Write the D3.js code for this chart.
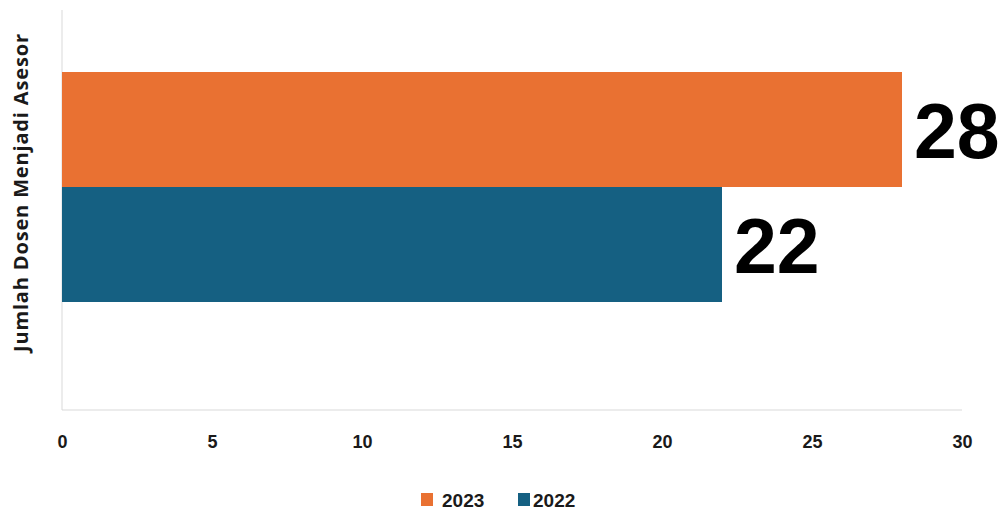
<!DOCTYPE html>
<html><head><meta charset="utf-8">
<script src="https://cdn.jsdelivr.net/npm/d3@7"></script>
<style>body{margin:0;background:#fff}svg{display:block}</style>
</head><body>
<script>
const categories = ["Jumlah Dosen Menjadi Asesor"];
const seriesNames = ["2023", "2022"];
const seriesValues = [28, 22];
const seriesColors = ["#E97132", "#156082"];
const xTicks = [0, 5, 10, 15, 20, 25, 30];

(function () {
const W = 1004, H = 511;
const svg = d3.select("body").append("svg").attr("width", W).attr("height", H);
const mLeft = 62, mRight = 962, mTop = 10, mBottom = 410;

const x = d3.scaleLinear().domain([0, 30]).range([mLeft, mRight]);
const y = d3.scaleBand().domain(seriesNames).range([72, 302]).padding(0);

// axes lines
svg.append("line").attr("x1", mLeft).attr("x2", mLeft).attr("y1", mTop).attr("y2", mBottom)
  .attr("stroke", "#d9d9d9").attr("stroke-width", 1);
svg.append("line").attr("x1", mLeft).attr("x2", mRight).attr("y1", mBottom).attr("y2", mBottom)
  .attr("stroke", "#d9d9d9").attr("stroke-width", 1);

// bars
const data = seriesNames.map((s, i) => ({s, v: seriesValues[i], c: seriesColors[i]}));
svg.selectAll("rect.bar").data(data).enter().append("rect")
  .attr("x", x(0)).attr("y", d => y(d.s))
  .attr("width", d => x(d.v) - x(0)).attr("height", y.bandwidth())
  .attr("fill", d => d.c);

// value labels
svg.selectAll("text.val").data(data).enter().append("text")
  .attr("x", d => x(d.v) + 12).attr("y", d => y(d.s) + y.bandwidth() / 2 + 28.5)
  .attr("font-family", "Liberation Sans, Arial, sans-serif").attr("font-weight", "bold")
  .attr("font-size", 77).attr("fill", "#000").text(d => d.v);

// x tick labels
const xAxis = d3.axisBottom(x).tickValues(xTicks).tickSize(0).tickPadding(0);
const gx = svg.append("g").attr("transform", `translate(0,${mBottom + 25})`).call(xAxis);
gx.select(".domain").remove();
gx.selectAll("text").attr("font-family", "Liberation Sans, Arial, sans-serif")
  .attr("font-weight", "bold").attr("font-size", 18).attr("fill", "#1a1a1a");

// y title
svg.append("text").attr("transform", `translate(28,193) rotate(-90)`)
  .attr("text-anchor", "middle")
  .attr("font-family", "Open Sans, Liberation Sans, Arial, sans-serif").attr("font-weight", "bold")
  .attr("font-size", 20).attr("fill", "#1a1a1a")
  .attr("textLength", 318).attr("lengthAdjust", "spacing")
  .text(categories[0]);

// legend
const legX = [421, 518];
const legTextX = [442, 533];
data.forEach((d, i) => {
  svg.append("rect").attr("x", legX[i]).attr("y", 493).attr("width", 12).attr("height", 13).attr("fill", d.c);
  svg.append("text").attr("x", legTextX[i]).attr("y", 507)
    .attr("font-family", "Liberation Sans, Arial, sans-serif")
    .attr("font-weight", "bold").attr("font-size", 19).attr("fill", "#1a1a1a").text(d.s);
});
})();
</script>
</body></html>
